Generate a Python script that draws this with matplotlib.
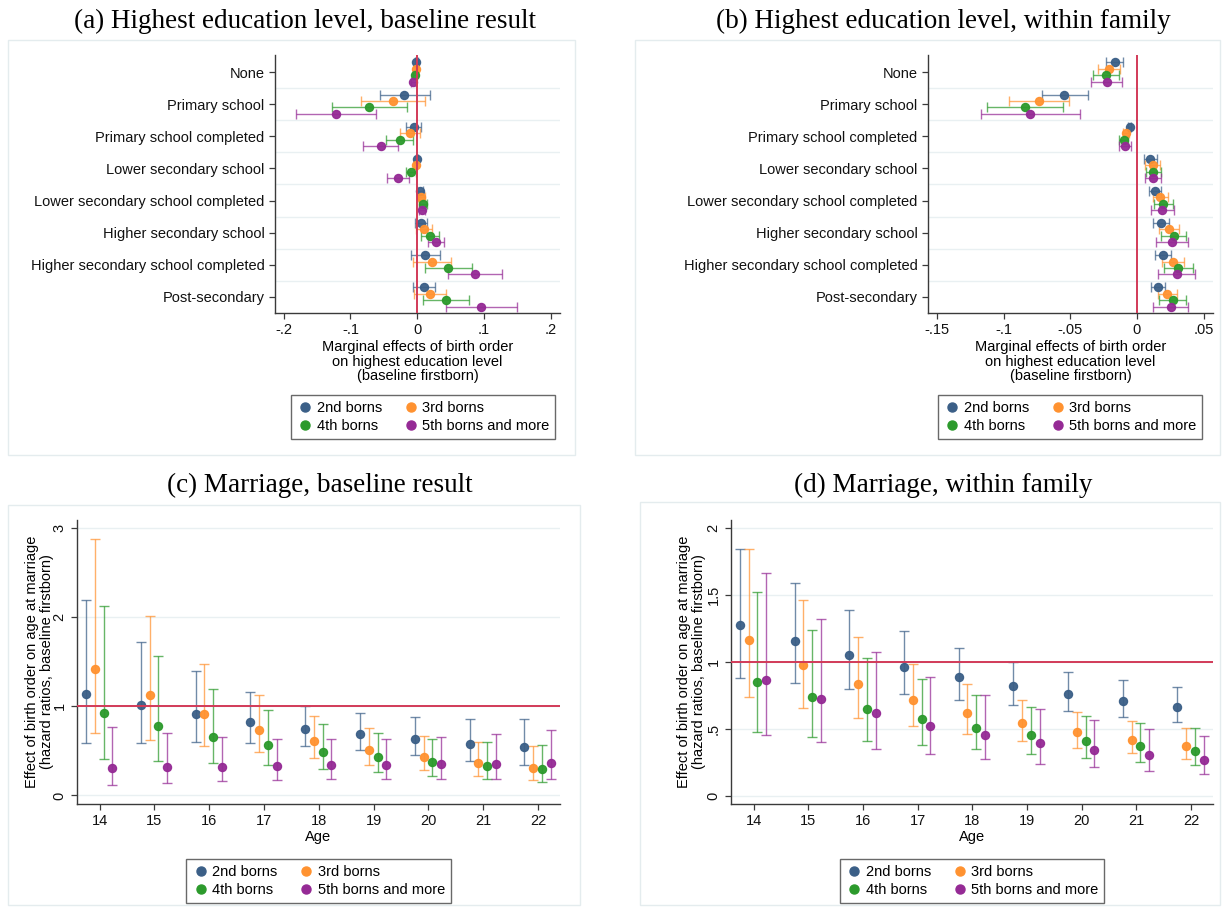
import matplotlib
matplotlib.use("Agg")
import matplotlib.pyplot as plt
from matplotlib.lines import Line2D
from matplotlib.patches import Rectangle
import numpy as np

# ---------------- data ----------------
categories = ["None", "Primary school", "Primary school completed", "Lower secondary school",
              "Lower secondary school completed", "Higher secondary school",
              "Higher secondary school completed", "Post-secondary"]
series_labels = ["2nd borns", "3rd borns", "4th borns", "5th borns and more"]

# Panel (a): highest education, baseline
a_est2 = [-0.001, -0.0195, -0.005, -0.0005, 0.004, 0.0055, 0.012, 0.010]
a_lo2 = [-0.003, -0.056, -0.016, -0.002, 0.000, -0.0035, -0.0085, -0.0065]
a_hi2 = [0.001, 0.0185, 0.006, 0.001, 0.0085, 0.015, 0.0335, 0.027]
a_est3 = [-0.0015, -0.036, -0.011, -0.002, 0.006, 0.010, 0.0225, 0.019]
a_lo3 = [-0.0035, -0.0835, -0.026, -0.004, 0.0005, -0.0015, -0.0055, -0.004]
a_hi3 = [0.0005, 0.012, 0.004, 0.000, 0.012, 0.0215, 0.0505, 0.0425]
a_est4 = [-0.0035, -0.0715, -0.026, -0.0085, 0.0085, 0.0185, 0.0465, 0.043]
a_lo4 = [-0.0065, -0.1275, -0.0465, -0.0165, 0.003, 0.0055, 0.0115, 0.009]
a_hi4 = [-0.0005, -0.015, -0.0055, -0.001, 0.015, 0.032, 0.0815, 0.0775]
a_est5 = [-0.0055, -0.1215, -0.0545, -0.0285, 0.007, 0.0275, 0.0865, 0.096]
a_lo5 = [-0.0095, -0.181, -0.0815, -0.0445, 0.003, 0.0165, 0.0465, 0.0435]
a_hi5 = [-0.0015, -0.0615, -0.028, -0.012, 0.0115, 0.040, 0.1265, 0.149]

# Panel (b): highest education, within family
b_est2 = [-0.0165, -0.0545, -0.0055, 0.010, 0.0135, 0.018, 0.0195, 0.01575]
b_lo2 = [-0.02325, -0.0715, -0.0065, 0.00525, 0.009, 0.012, 0.0135, 0.01075]
b_hi2 = [-0.01025, -0.037, -0.0045, 0.01525, 0.018, 0.02375, 0.02525, 0.021]
b_est3 = [-0.02125, -0.07375, -0.008, 0.01175, 0.0175, 0.024, 0.027, 0.0225]
b_lo3 = [-0.0295, -0.096, -0.01025, 0.00625, 0.012, 0.0165, 0.019, 0.01575]
b_hi3 = [-0.01275, -0.05125, -0.006, 0.01725, 0.0235, 0.03175, 0.03525, 0.02975]
b_est4 = [-0.02325, -0.084, -0.010, 0.01225, 0.01975, 0.0275, 0.031, 0.027]
b_lo4 = [-0.033, -0.11225, -0.01325, 0.0065, 0.013, 0.01825, 0.0205, 0.0165]
b_hi4 = [-0.0135, -0.05525, -0.00675, 0.01825, 0.02675, 0.037, 0.042, 0.037]
b_est5 = [-0.0225, -0.08025, -0.00925, 0.012, 0.019, 0.0265, 0.02975, 0.02525]
b_lo5 = [-0.03425, -0.117, -0.01375, 0.00575, 0.01025, 0.0145, 0.01575, 0.012]
b_hi5 = [-0.011, -0.04275, -0.00475, 0.01825, 0.02775, 0.0385, 0.04375, 0.0385]

ages = [14, 15, 16, 17, 18, 19, 20, 21, 22]

# Panel (c): marriage, baseline (hazard ratios)
c_est2 = [1.135, 1.011, 0.910, 0.820, 0.749, 0.685, 0.629, 0.581, 0.539]
c_lo2 = [0.584, 0.592, 0.596, 0.584, 0.554, 0.513, 0.449, 0.390, 0.337]
c_hi2 = [2.198, 1.727, 1.393, 1.161, 1.007, 0.921, 0.876, 0.861, 0.858]
c_est3 = [1.416, 1.124, 0.910, 0.738, 0.610, 0.509, 0.427, 0.363, 0.311]
c_lo3 = [0.697, 0.625, 0.554, 0.491, 0.416, 0.345, 0.281, 0.221, 0.176]
c_hi3 = [2.884, 2.019, 1.472, 1.124, 0.895, 0.753, 0.663, 0.596, 0.551]
c_est4 = [0.929, 0.779, 0.659, 0.566, 0.487, 0.427, 0.375, 0.330, 0.292]
c_lo4 = [0.408, 0.390, 0.363, 0.337, 0.300, 0.262, 0.221, 0.184, 0.150]
c_hi4 = [2.127, 1.569, 1.199, 0.955, 0.798, 0.697, 0.633, 0.596, 0.566]
c_est5 = [0.307, 0.315, 0.322, 0.330, 0.337, 0.345, 0.348, 0.356, 0.363]
c_lo5 = [0.120, 0.139, 0.157, 0.172, 0.180, 0.187, 0.187, 0.184, 0.180]
c_hi5 = [0.764, 0.704, 0.659, 0.637, 0.629, 0.637, 0.655, 0.689, 0.734]

# Panel (d): marriage, within family (hazard ratios)
d_est2 = [1.277, 1.155, 1.052, 0.965, 0.890, 0.823, 0.763, 0.711, 0.666]
d_lo2 = [0.880, 0.840, 0.798, 0.758, 0.716, 0.676, 0.633, 0.591, 0.549]
d_hi2 = [1.845, 1.593, 1.392, 1.229, 1.105, 1.002, 0.923, 0.863, 0.815]
d_est3 = [1.165, 0.980, 0.833, 0.716, 0.621, 0.541, 0.476, 0.419, 0.374]
d_lo3 = [0.738, 0.656, 0.584, 0.519, 0.461, 0.409, 0.359, 0.317, 0.277]
d_hi3 = [1.845, 1.466, 1.190, 0.985, 0.833, 0.716, 0.628, 0.561, 0.506]
d_est4 = [0.853, 0.741, 0.648, 0.574, 0.509, 0.456, 0.411, 0.372, 0.337]
d_lo4 = [0.479, 0.441, 0.411, 0.377, 0.347, 0.314, 0.284, 0.254, 0.227]
d_hi4 = [1.526, 1.242, 1.032, 0.870, 0.756, 0.663, 0.596, 0.546, 0.504]
d_est5 = [0.865, 0.726, 0.616, 0.524, 0.451, 0.394, 0.344, 0.304, 0.269]
d_lo5 = [0.451, 0.399, 0.352, 0.309, 0.272, 0.239, 0.212, 0.187, 0.162]
d_hi5 = [1.666, 1.322, 1.072, 0.890, 0.753, 0.646, 0.566, 0.501, 0.449]

# ---------------- style ----------------
colors = ["#3B5F87", "#FF9230", "#2C9A2C", "#952A95"]
ref_color = "#D23A58"
grid_color = "#E9F0F2"
spine_color = "#3A3A3A"
sans = "Liberation Sans"
serif = "Liberation Serif"
fs = 10.5
title_fs = 19.5

plt.rcParams["font.family"] = sans

W, H = 1226, 908
fig = plt.figure(figsize=(W / 100, H / 100), dpi=100)


def fx(px):
    return px / W


def fy(py):
    return 1 - py / H


def add_axes(left, top, right, bottom):
    return fig.add_axes([fx(left), fy(bottom), fx(right - left), (bottom - top) / H])


def style_axes(ax):
    for s in ["top", "right"]:
        ax.spines[s].set_visible(False)
    for s in ["left", "bottom"]:
        ax.spines[s].set_color(spine_color)
        ax.spines[s].set_linewidth(1.0)
    ax.tick_params(direction="out", length=4, width=0.9, color=spine_color,
                   labelsize=fs, labelcolor="#111111")


def panel_box(left, top, right, bottom):
    fig.patches.append(Rectangle((fx(left), fy(bottom)), fx(right - left), (bottom - top) / H,
                                 transform=fig.transFigure, fill=False,
                                 edgecolor="#E4ECEE", linewidth=1.0, zorder=0))


def legend(cx, top_px):
    handles = [Line2D([], [], marker="o", ls="none", color=c, markersize=6.5) for c in colors]
    order = [0, 2, 1, 3]  # row-major fill: 2nd, 3rd / 4th, 5th
    fig.legend([handles[i] for i in order], [series_labels[i] for i in order],
               loc="upper center", bbox_to_anchor=(fx(cx), fy(top_px)), ncol=2,
               frameon=True, fancybox=False, edgecolor="#444444", fontsize=fs,
               handletextpad=0.2, columnspacing=1.35, borderpad=0.4, labelspacing=0.3,
               handlelength=1.2)


y_off = [-0.3, -0.1, 0.1, 0.3]
x_off = [-0.25, -0.09, 0.07, 0.23]


def draw_edu(ax, ests, los, his, xlim, xticks, xticklabels):
    n = len(categories)
    pos = np.arange(n)
    for k in range(n - 1):
        ax.axhline(k + 0.5, color=grid_color, lw=1.0, zorder=0)
    for i in range(4):
        e = np.array(ests[i]); lo = np.array(los[i]); hi = np.array(his[i])
        y = pos + y_off[i]
        ax.errorbar(e, y, xerr=[e - lo, hi - e], fmt="none", ecolor=colors[i], alpha=0.72,
                    elinewidth=1.0, capsize=3.5, capthick=1.0, zorder=2)
        ax.plot(e, y, "o", color=colors[i], markersize=5.8, alpha=0.95, zorder=3)
    ax.axvline(0, color=ref_color, lw=1.4, zorder=5)
    ax.set_ylim(n - 0.5, -0.53)
    ax.set_yticks(pos)
    ax.set_yticklabels(categories)
    ax.set_xlim(*xlim)
    ax.set_xticks(xticks)
    ax.set_xticklabels(xticklabels)
    ax.set_xlabel("Marginal effects of birth order\non highest education level\n(baseline firstborn)",
                  fontsize=fs, linespacing=1.05, labelpad=2)
    style_axes(ax)


def draw_mar(ax, ests, los, his, ylim, yticks, yticklabels, label_x):
    for t in yticks:
        ax.axhline(t, color=grid_color, lw=1.0, zorder=0)
    x = np.array(ages, dtype=float)
    for i in range(4):
        e = np.array(ests[i]); lo = np.array(los[i]); hi = np.array(his[i])
        xx = x + x_off[i]
        ax.errorbar(xx, e, yerr=[e - lo, hi - e], fmt="none", ecolor=colors[i], alpha=0.72,
                    elinewidth=1.0, capsize=3.5, capthick=1.0, zorder=2)
        ax.plot(xx, e, "o", color=colors[i], markersize=5.8, alpha=0.95, zorder=3)
    ax.axhline(1, color=ref_color, lw=1.4, zorder=5)
    ax.set_xlim(13.586, 22.4)
    ax.set_xticks(ages)
    ax.set_xticklabels([str(a) for a in ages])
    ax.set_ylim(*ylim)
    ax.set_yticks(yticks)
    ax.set_yticklabels(yticklabels, rotation=90, va="center")
    ax.set_xlabel("Age", fontsize=fs, labelpad=1)
    ax.set_ylabel("Effect of birth order on age at marriage\n(hazard ratios, baseline firstborn)",
                  fontsize=fs, linespacing=1.05)
    ax.yaxis.set_label_coords(label_x, 0.5)
    style_axes(ax)


# panel boxes
panel_box(8, 40, 575, 455)
panel_box(635, 40, 1220, 455)
panel_box(8, 505, 580, 905)
panel_box(640, 502, 1220, 905)

# titles
fig.text(fx(305), fy(21), "(a) Highest education level, baseline result", family=serif,
         fontsize=title_fs, ha="center", va="center")
fig.text(fx(943), fy(21), "(b) Highest education level, within family", family=serif,
         fontsize=title_fs, ha="center", va="center")
fig.text(fx(320), fy(485), "(c) Marriage, baseline result", family=serif,
         fontsize=title_fs, ha="center", va="center")
fig.text(fx(943), fy(485), "(d) Marriage, within family", family=serif,
         fontsize=title_fs, ha="center", va="center")

# (a)
ax_a = add_axes(275, 55, 560, 313)
draw_edu(ax_a, [a_est2, a_est3, a_est4, a_est5], [a_lo2, a_lo3, a_lo4, a_lo5],
         [a_hi2, a_hi3, a_hi4, a_hi5], (-0.213, 0.214),
         [-0.2, -0.1, 0, 0.1, 0.2], ["-.2", "-.1", "0", ".1", ".2"])
legend(423, 388)

# (b)
ax_b = add_axes(928, 55, 1213, 313)
draw_edu(ax_b, [b_est2, b_est3, b_est4, b_est5], [b_lo2, b_lo3, b_lo4, b_lo5],
         [b_hi2, b_hi3, b_hi4, b_hi5], (-0.1567, 0.057),
         [-0.15, -0.1, -0.05, 0, 0.05], ["-.15", "-.1", "-.05", "0", ".05"])
legend(1070, 388)

# (c)
ax_c = add_axes(77, 520, 560, 804)
draw_mar(ax_c, [c_est2, c_est3, c_est4, c_est5], [c_lo2, c_lo3, c_lo4, c_lo5],
         [c_hi2, c_hi3, c_hi4, c_hi5], (-0.0965, 3.093), [0, 1, 2, 3], ["0", "1", "2", "3"],
         -0.048)
legend(318.5, 852)

# (d)
ax_d = add_axes(731, 520, 1213, 804)
draw_mar(ax_d, [d_est2, d_est3, d_est4, d_est5], [d_lo2, d_lo3, d_lo4, d_lo5],
         [d_hi2, d_hi3, d_hi4, d_hi5], (-0.062, 2.062), [0, 0.5, 1, 1.5, 2],
         ["0", ".5", "1", "1.5", "2"], -0.052)
legend(972, 852)

fig.savefig("out.png", dpi=100, facecolor="white")
